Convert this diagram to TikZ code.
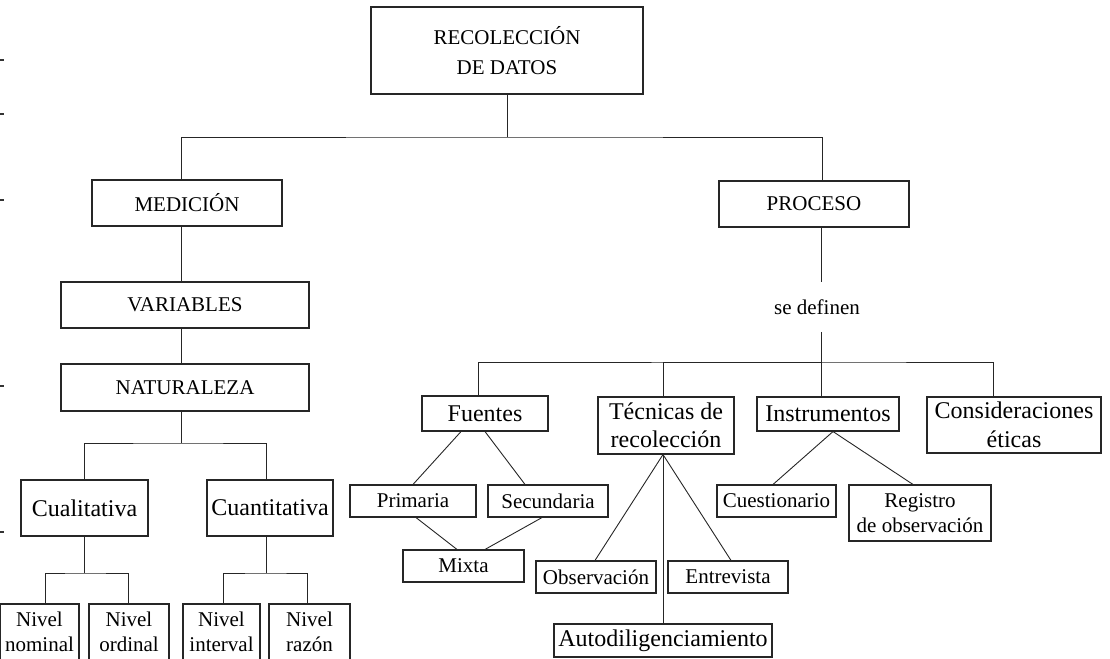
\documentclass[tikz,border=0pt]{standalone}
\usepackage{fontspec}
\setmainfont{Liberation Serif}
\usetikzlibrary{calc}

\newcommand\fcap{\fontsize{21}{30}\selectfont}
\newcommand\fsm{\fontsize{21}{25.5}\selectfont}
\newcommand\fbig{\fontsize{24}{28.5}\selectfont}

\begin{document}
\begin{tikzpicture}[x=1pt,y=-1pt,
  line width=1pt, draw=black!85,
  box/.style={draw=black!85, line width=1.1pt, rectangle, inner sep=0pt,
              align=center, text=black},
  link/.style={draw=black!85, line width=0.9pt},
  edgemark/.style={draw=black!80, line width=1.3pt}]

\useasboundingbox (0,0) rectangle (1110,658);
\clip (0,0) rectangle (1110,658);

% --- top level ---
\node[box, font=\fcap, minimum width=272, minimum height=87] (root) at (507,50.5) {RECOLECCIÓN\\DE DATOS};
\node[box, font=\fcap, minimum width=190, minimum height=46] (med)  at (187,203) {MEDICIÓN};
\node[box, font=\fcap, minimum width=190, minimum height=46] (proc) at (814,204) {PROCESO};

% --- measurement branch ---
\node[box, font=\fcap, minimum width=248, minimum height=46] (var) at (185,305) {VARIABLES};
\node[box, font=\fcap, minimum width=248, minimum height=47] (nat) at (185,387.5) {NATURALEZA};
\node[box, font=\fbig, minimum width=127, minimum height=56] (cual) at (84.5,508) {Cualitativa};
\node[box, font=\fbig, minimum width=126, minimum height=56] (cuan) at (270,508) {Cuantitativa};
\node[box, font=\fsm, minimum width=79, minimum height=56] (nom) at (39.5,632) {Nivel\\nominal};
\node[box, font=\fsm, minimum width=80, minimum height=56] (ord) at (129,632) {Nivel\\ordinal};
\node[box, font=\fsm, minimum width=77, minimum height=56] (int) at (221.5,632) {Nivel\\interval};
\node[box, font=\fsm, minimum width=81, minimum height=56] (raz) at (309.5,632) {Nivel\\razón};

% --- process branch ---
\node[font=\fsm, inner xsep=0pt, inner ysep=17pt] (sedef) at (817,307) {se definen};
\node[box, font=\fbig, minimum width=126, minimum height=35] (fue) at (485,413.5) {Fuentes};
\node[box, font=\fbig, minimum width=136, minimum height=57] (tec) at (666,425.5) {Técnicas de\\recolección};
\node[box, font=\fbig, minimum width=142, minimum height=34] (ins) at (828,414) {Instrumentos};
\node[box, font=\fbig, minimum width=174, minimum height=56] (con) at (1014,425) {Consideraciones\\éticas};

\node[box, font=\fsm, minimum width=126, minimum height=32] (pri) at (413,501) {Primaria};
\node[box, font=\fsm, minimum width=120, minimum height=32] (sec) at (548,501) {Secundaria};
\node[box, font=\fsm, minimum width=121, minimum height=32] (mix) at (463.5,566) {Mixta};
\node[box, font=\fsm, minimum width=120, minimum height=32] (obs) at (596,577) {Observación};
\node[box, font=\fsm, minimum width=120, minimum height=32] (ent) at (728,577) {Entrevista};
\node[box, font=\fbig, minimum width=218, minimum height=33] (aut) at (663,640.5) {Autodiligenciamiento};
\node[box, font=\fsm, minimum width=119, minimum height=32] (cue) at (776.5,501) {Cuestionario};
\node[box, font=\fsm, minimum width=142, minimum height=56] (reg) at (920,513) {Registro\\de observación};

% --- junction points of the tree bars ---
\coordinate (rootbar) at (507,137);
\coordinate (natbar)  at (181,443);
\coordinate (cualbar) at (84,573);
\coordinate (cuanbar) at (266,573);
\coordinate (defbar)  at (821,362);

% --- tree connectors ---
\draw[link] (root.south) -- (rootbar);
\draw[link] ([xshift=-6pt]med.north) |- (rootbar) -| ([xshift=8pt]proc.north);
\draw[link] ([xshift=-6pt]med.south) -- ([xshift=-4pt]var.north);
\draw[link] ([xshift=-4pt]var.south) -- ([xshift=-4pt]nat.north);
\draw[link] ([xshift=-4pt]nat.south) -- (natbar);
\draw[link] ([xshift=-0.5pt]cual.north) |- (natbar) -| ([xshift=-4pt]cuan.north);
\draw[link] ([xshift=-0.5pt]cual.south) -- (cualbar);
\draw[link] ([xshift=5.5pt]nom.north) |- (cualbar) -| ([xshift=-1pt]ord.north);
\draw[link] ([xshift=-4pt]cuan.south) -- (cuanbar);
\draw[link] ([xshift=1.5pt]int.north) |- (cuanbar) -| ([xshift=-2.5pt]raz.north);

\draw[link] ([xshift=7pt]proc.south) -- ([xshift=4pt]sedef.north);
\draw[link] ([xshift=4pt]sedef.south) -- (defbar);
\draw[link] ([xshift=-7pt]fue.north) |- (defbar) -| ([xshift=-21pt]con.north);
\draw[link] ([xshift=-3pt]tec.north) |- (defbar);
\draw[link] ([xshift=-7pt]ins.north) -- (defbar);

% --- fan-out connectors ---
\draw[link] ([xshift=-24pt]fue.south) -- (pri.north);
\draw[link] (fue.south) -- ([xshift=-23pt]sec.north);
\draw[link] ([xshift=3pt]pri.south) -- ([xshift=-6.5pt]mix.north);
\draw[link] ([xshift=-6pt]sec.south) -- ([xshift=21.5pt]mix.north);
\draw[link] ([xshift=-3pt]tec.south) -- ([xshift=-1pt]obs.north);
\draw[link] ([xshift=-3pt]tec.south) -- ([xshift=3pt]ent.north);
\draw[link] ([xshift=-3pt]tec.south) -- (aut.north);
\draw[link] ([xshift=5pt]ins.south) -- ([xshift=-3.5pt]cue.north);
\draw[link] ([xshift=5pt]ins.south) -- ([xshift=-7pt]reg.north);

% --- small marks along the left margin ---
\foreach \yy in {60,114,200,386,532}
  \draw[edgemark] (0,\yy) -- (4,\yy);
\end{tikzpicture}
\end{document}
